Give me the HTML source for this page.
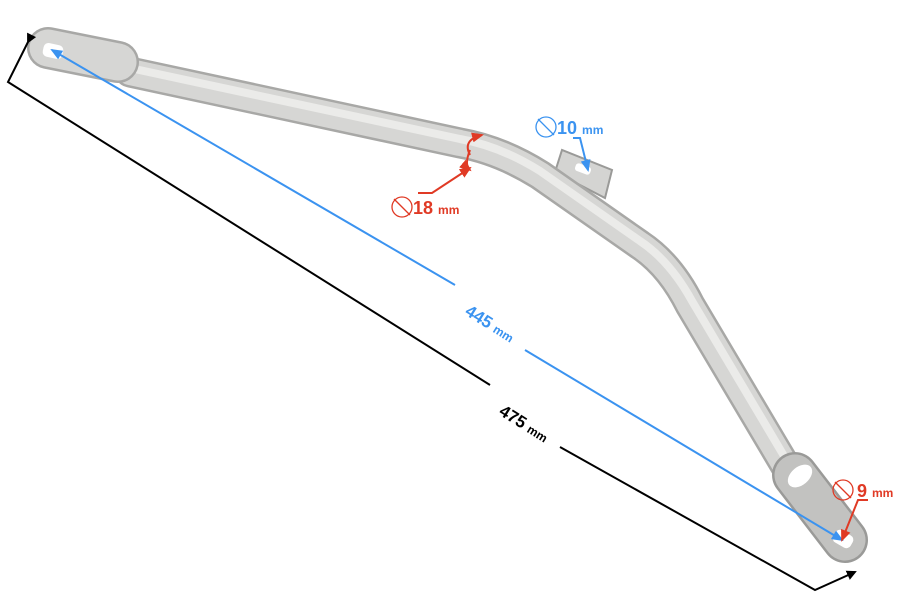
<!DOCTYPE html>
<html><head><meta charset="utf-8"><style>body{margin:0;background:#fff}svg{display:block}text{font-family:"Liberation Sans",sans-serif;font-weight:bold}</style></head>
<body>
<svg width="900" height="600" viewBox="0 0 900 600" xmlns="http://www.w3.org/2000/svg">
<defs>
<marker id="ab" markerWidth="10" markerHeight="10" refX="8" refY="5" orient="auto" markerUnits="userSpaceOnUse"><path d="M0,0 L10,5 L0,10 z" fill="#000"/></marker>
<marker id="abl" markerWidth="12" markerHeight="10" refX="10" refY="5" orient="auto" markerUnits="userSpaceOnUse"><path d="M0,0 L12,5 L0,10 z" fill="#3b93f0"/></marker>
<marker id="ar" markerWidth="12" markerHeight="10" refX="10" refY="5" orient="auto" markerUnits="userSpaceOnUse"><path d="M0,0 L12,5 L0,10 z" fill="#e03a25"/></marker>
</defs>
<path d="M555,172 L562,150 L612,170 L605,198 Z" fill="#d4d4d2" stroke="#9a9a98" stroke-width="2"/>
<g fill="none" stroke-linecap="round" stroke-linejoin="round">
<path d="M130,72 L460,143 Q500,150 540,175 L640,245 Q670,265 690,305 L785,465" stroke="#a8a8a6" stroke-width="31"/>
<path d="M130,72 L460,143 Q500,150 540,175 L640,245 Q670,265 690,305 L785,465" stroke="#d6d6d4" stroke-width="26"/>
<path d="M130,68 L460,139 Q500,146 540,171 L640,241 Q670,261 692,301 L787,461" stroke="#ebebe9" stroke-width="8"/>
<path d="M48,48 L118,62" stroke="#a8a8a6" stroke-width="42"/>
<path d="M48,48 L118,62" stroke="#d6d6d4" stroke-width="37"/>
<path d="M795,475 L845,540" stroke="#9a9a98" stroke-width="46"/>
<path d="M795,475 L845,540" stroke="#c2c2c0" stroke-width="41"/>
</g>
<rect x="43" y="44" width="20" height="14" rx="5" fill="#fff" transform="rotate(12 53 51)"/>
<rect x="833" y="532" width="20" height="14" rx="5" fill="#fff" transform="rotate(30 843 539)"/>
<ellipse cx="800" cy="476" rx="14" ry="9" fill="#fff" transform="rotate(-40 800 476)"/>
<rect x="575" y="165" width="16" height="8" rx="3" fill="#fff" transform="rotate(20 583 169)"/>
<polyline points="28,42 8,82 490,385" fill="none" stroke="#000" stroke-width="2" marker-start="url(#ab)"/>
<polyline points="560,447 815,590 855,572" fill="none" stroke="#000" stroke-width="2" marker-end="url(#ab)"/>
<text x="498" y="414" font-size="17" transform="rotate(32 498 414)">475 <tspan font-size="12">mm</tspan></text>
<line x1="455" y1="285" x2="52" y2="50" stroke="#3b93f0" stroke-width="2" marker-end="url(#abl)"/>
<line x1="525" y1="350" x2="842" y2="540" stroke="#3b93f0" stroke-width="2" marker-end="url(#abl)"/>
<text x="464" y="314" font-size="17" fill="#3b93f0" transform="rotate(32 464 314)">445 <tspan font-size="12">mm</tspan></text>
<circle cx="546" cy="127" r="10" fill="none" stroke="#3b93f0" stroke-width="1.3"/>
<line x1="538" y1="119" x2="554" y2="135" stroke="#3b93f0" stroke-width="1.3"/>
<text x="557" y="134" font-size="18" fill="#3b93f0">10 <tspan font-size="12">mm</tspan></text>
<polyline points="573,138 580,138 588,170" fill="none" stroke="#3b93f0" stroke-width="2" marker-end="url(#abl)"/>
<circle cx="402" cy="207" r="10" fill="none" stroke="#e03a25" stroke-width="1.3"/>
<line x1="394" y1="199" x2="410" y2="215" stroke="#e03a25" stroke-width="1.3"/>
<text x="413" y="214" font-size="18" fill="#e03a25">18 <tspan font-size="12">mm</tspan></text>
<polyline points="418,193 432,193 470,168" fill="none" stroke="#e03a25" stroke-width="2" marker-end="url(#ar)"/>
<path d="M470,155 Q462,140 482,135" fill="none" stroke="#e03a25" stroke-width="2" marker-end="url(#ar)"/>
<path d="M470,150 Q464,165 470,170" fill="none" stroke="#e03a25" stroke-width="2" marker-end="url(#ar)"/>
<circle cx="843" cy="490" r="10" fill="none" stroke="#e03a25" stroke-width="1.3"/>
<line x1="835" y1="482" x2="851" y2="498" stroke="#e03a25" stroke-width="1.3"/>
<text x="857" y="497" font-size="18" fill="#e03a25">9 <tspan font-size="12">mm</tspan></text>
<polyline points="868,500 858,500 842,540" fill="none" stroke="#e03a25" stroke-width="2" marker-end="url(#ar)"/>
</svg>
</body></html>
